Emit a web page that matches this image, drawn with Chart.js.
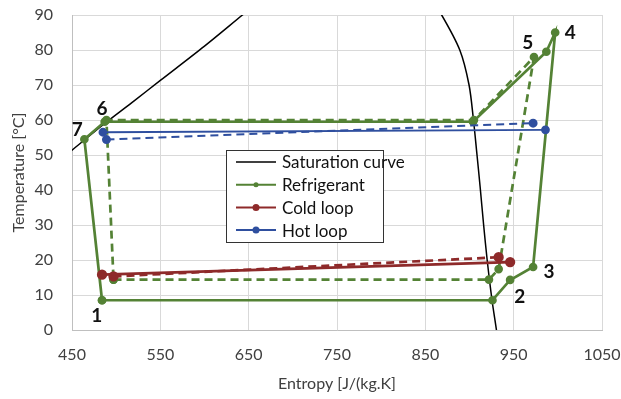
<!DOCTYPE html>
<html>
<head>
<meta charset="utf-8">
<script src="https://cdn.jsdelivr.net/npm/chart.js@4.4.0/dist/chart.umd.min.js"></script>
<style>
  html,body{margin:0;padding:0;background:#fff;}
  #wrap{width:621px;height:399px;}
</style>
</head>
<body>
<div id="wrap"><canvas id="chart" width="621" height="399"></canvas></div>
<script>
// ticks
const xTicks = [450,550,650,750,850,950,1050];
const yTicks = [0,10,20,30,40,50,60,70,80,90];

// saturation curve: entropy / temperature
const satS = [440, 450, 487, 520, 550, 600, 643, 660, 700, 755, 810, 850, 868.5, 889, 899.5, 904.5, 908.5, 912, 916, 920, 925.5, 930.5, 933];
const satT = [49.5, 51.4, 59, 65.4, 71.3, 81.1, 90, 93.5, 100, 104, 100, 97, 90, 80, 70, 60, 50, 41, 30, 20, 8.5, 0, -5];

// refrigerant cycle (solid) and second case (dashed)
const refS = [484, 926, 946, 972, 997, 987, 904, 487, 464, 484];
const refT = [8.5, 8.5, 14.3, 18, 85, 79.5, 59.5, 59.5, 54.5, 8.5];
const refDashS = [497, 922, 933, 973, 905, 489, 497];
const refDashT = [14.4, 14.4, 17.4, 78, 60, 60, 14.4];

// cold loop
const coldS = [484, 946];
const coldT = [15.8, 19.4];
const coldDashS = [497, 933];
const coldDashT = [15.3, 20.8];

// hot loop
const hotS = [485, 986];
const hotT = [56.5, 57.2];
const hotDashS = [489, 972];
const hotDashT = [54.4, 59.1];

// state point numbers
const numText = ['1','2','3','4','5','6','7'];
const numS = [478, 957, 990, 1014, 966, 484, 456];
const numT = [4, 9.4, 16.7, 84.8, 81.9, 63.3, 57.3];

const GREEN = '#548235', RED = '#8e2a2a', BLUE = '#2f4f9f';
const FONT = 'Lato, "Open Sans", sans-serif';

function pts(s,t){ return s.map((v,i)=>({x:v,y:t[i]})); }

function series(label, s, t, color, opts){
  return Object.assign({
    label: label,
    data: pts(s,t),
    borderColor: color,
    backgroundColor: color,
    borderWidth: 2.7,
    pointRadius: 3,
    pointHoverRadius: 3,
    showLine: true,
    tension: 0
  }, opts || {});
}

// numbers near the state points
const numbersPlugin = {
  id: 'numbers',
  afterDatasetsDraw(chart){
    const ctx = chart.ctx, xs = chart.scales.x, ys = chart.scales.y;
    ctx.save();
    ctx.font = 'bold 19px ' + FONT;
    ctx.fillStyle = '#111';
    ctx.textAlign = 'center';
    ctx.textBaseline = 'middle';
    numText.forEach((txt,i)=>{
      ctx.fillText(txt, xs.getPixelForValue(numS[i]), ys.getPixelForValue(numT[i]));
    });
    ctx.restore();
  }
};

// legend box inside the plot
const legendItems = [
  {text:'Saturation curve', color:'#000', r:0, w:1.5},
  {text:'Refrigerant', color:GREEN, r:2.5, w:2},
  {text:'Cold loop', color:RED, r:3.5, w:2},
  {text:'Hot loop', color:BLUE, r:3.5, w:2}
];
const boxLegend = {
  id: 'boxLegend',
  afterDraw(chart){
    const ctx = chart.ctx, a = chart.chartArea;
    const left = a.left + 154, top = a.top + 135, w = 157, h = 92, row = 22.7;
    ctx.save();
    ctx.fillStyle = '#fff';
    ctx.fillRect(left, top, w, h);
    ctx.strokeStyle = '#333';
    ctx.lineWidth = 1;
    ctx.strokeRect(left + 0.5, top + 0.5, w, h);
    ctx.font = '17px ' + FONT;
    ctx.textBaseline = 'middle';
    legendItems.forEach((it,i)=>{
      const y = top + 12 + i*row;
      ctx.strokeStyle = it.color;
      ctx.lineWidth = it.w;
      ctx.beginPath();
      ctx.moveTo(left + 10, y);
      ctx.lineTo(left + 50, y);
      ctx.stroke();
      if (it.r){
        ctx.fillStyle = it.color;
        ctx.beginPath();
        ctx.arc(left + 30, y, it.r, 0, Math.PI*2);
        ctx.fill();
      }
      ctx.fillStyle = '#111';
      ctx.fillText(it.text, left + 56, y + 1);
    });
    ctx.restore();
  }
};

new Chart(document.getElementById('chart').getContext('2d'), {
  type: 'scatter',
  data: {
    datasets: [
      series('Hot loop', hotS, hotT, BLUE, {pointRadius:3.5, borderWidth:1.8}),
      series('Hot loop dashed', hotDashS, hotDashT, BLUE, {pointRadius:3.5, borderWidth:2, borderDash:[8,5]}),
      series('Cold loop', coldS, coldT, RED, {pointRadius:3.8}),
      series('Cold loop dashed', coldDashS, coldDashT, RED, {pointRadius:3.8, borderDash:[8,5]}),
      series('Refrigerant', refS, refT, GREEN, {}),
      series('Refrigerant dashed', refDashS, refDashT, GREEN, {borderDash:[8,5]}),
      series('Saturation curve', satS, satT, '#000', {pointRadius:0, borderWidth:1.5, tension:0.3})
    ]
  },
  options: {
    responsive: false,
    animation: false,
    layout: {padding: {top: 0, right: 0, bottom: 0, left: 1}},
    plugins: {
      legend: {display: false},
      tooltip: {enabled: false}
    },
    scales: {
      x: {
        type: 'linear',
        min: 450, max: 1050,
        afterBuildTicks: s => { s.ticks = xTicks.map(v => ({value: v})); },
        afterFit: s => { s.paddingRight = 19; s.height = 69; },
        grid: {color: '#d9d9d9', drawTicks: false},
        border: {color: '#bfbfbf'},
        ticks: {color: '#404040', padding: 15, font: {family: FONT, size: 16}, callback: v => String(v)},
        title: {display: true, text: 'Entropy [J/(kg.K]', color: '#404040', padding: {top: 0, bottom: 6}, font: {family: FONT, size: 16}}
      },
      y: {
        type: 'linear',
        min: 0, max: 90,
        afterBuildTicks: s => { s.ticks = yTicks.map(v => ({value: v})); },
        afterFit: s => { s.paddingTop = 15; s.width = 71; },
        grid: {color: '#d9d9d9', drawTicks: false},
        border: {color: '#bfbfbf'},
        ticks: {color: '#404040', padding: 19, font: {family: FONT, size: 16}, callback: v => String(v)},
        title: {display: true, text: 'Temperature [°C]', color: '#404040', padding: {top: 8, bottom: 0}, font: {family: FONT, size: 16}}
      }
    }
  },
  plugins: [numbersPlugin, boxLegend]
});
</script>
</body>
</html>
